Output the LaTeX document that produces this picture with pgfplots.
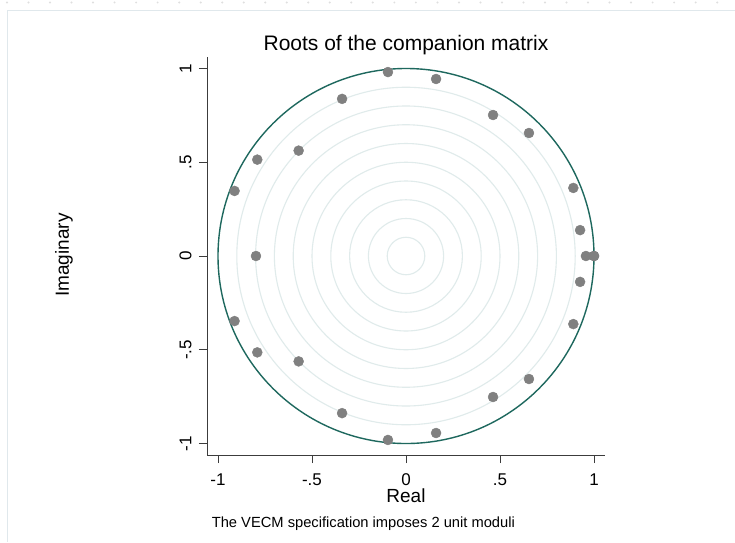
\documentclass[border=0pt]{standalone}
\usepackage{fontspec}
\setmainfont{Liberation Sans}
\usepackage{pgfplots}
\pgfplotsset{compat=1.18}
\definecolor{unitc}{RGB}{30,104,94}
\definecolor{gridc}{RGB}{224,235,235}
\definecolor{ptc}{RGB}{128,128,128}
\definecolor{framec}{RGB}{224,232,236}
\definecolor{spinec}{RGB}{60,60,60}
\begin{document}
\begin{tikzpicture}
\useasboundingbox (-207pt,-87pt) rectangle (528pt,455pt);
\fill[white] (-207pt,-87pt) rectangle (528pt,455pt);
\draw[framec, line width=1pt] (-199pt,-87pt) -- (-199pt,444pt) -- (528pt,444pt);
\foreach \i in {0,...,33} \fill[gray!25] ({(-200+\i*21.52)*1pt}, 452.5pt) circle (1.1pt);
\begin{axis}[
  at={(0,0)}, anchor=south west,
  scale only axis, width=398pt, height=398pt,
  xmin=-1.0585, xmax=1.0585, ymin=-1.0613, ymax=1.0613,
  axis x line*=bottom, axis y line*=left,
  axis line style={-, spinec, line width=0.9pt},
  tick align=outside,
  major tick length=8pt,
  tick style={spinec, line width=0.9pt},
  xtick={-1,-0.5,0,0.5,1}, xticklabels={-1,-.5,0,.5,1},
  ytick={-1,-0.5,0,0.5,1}, yticklabels={-1,-.5,0,.5,1},
  ticklabel style={font=\fontsize{17}{17}\selectfont},
  xticklabel style={yshift=-22pt, anchor=base},
  yticklabel style={xshift=-7.5pt, rotate=90, anchor=base},
  clip=false,
]
\pgfplotsinvokeforeach{1,...,9}{\draw[gridc, line width=1.1pt] (axis cs:0,0) circle [radius=#1/10];}
\draw[unitc, line width=1.4pt] (axis cs:0,0) circle [radius=1];
\addplot[only marks, mark=*, mark size=5pt, mark options={draw=ptc, fill=ptc}] coordinates {
(1,0) (1,0) (0.957,0)
(0.926,0.138) (0.926,-0.138)
(0.890,0.363) (0.890,-0.363)
(0.654,0.656) (0.654,-0.656)
(0.463,0.752) (0.463,-0.752)
(0.160,0.944) (0.160,-0.944)
(-0.096,0.981) (-0.096,-0.981)
(-0.340,0.838) (-0.340,-0.838)
(-0.571,0.562) (-0.571,-0.562)
(-0.791,0.514) (-0.791,-0.514)
(-0.912,0.347) (-0.912,-0.347)
(-0.798,0)
};
\end{axis}
\node[anchor=base, font=\fontsize{21}{21}\selectfont, inner sep=0pt] at (199pt,404pt) {Roots of the companion matrix};
\node[anchor=base, font=\fontsize{19}{19}\selectfont, inner sep=0pt] at (199pt,-47.5pt) {Real};
\node[rotate=90, anchor=base, font=\fontsize{19}{19}\selectfont, inner sep=0pt] at (-138pt,200pt) {Imaginary};
\node[anchor=base west, font=\fontsize{14.7}{14.7}\selectfont, inner sep=0pt] at (4.6pt,-72pt) {The VECM specification imposes 2 unit moduli};
\end{tikzpicture}
\end{document}
